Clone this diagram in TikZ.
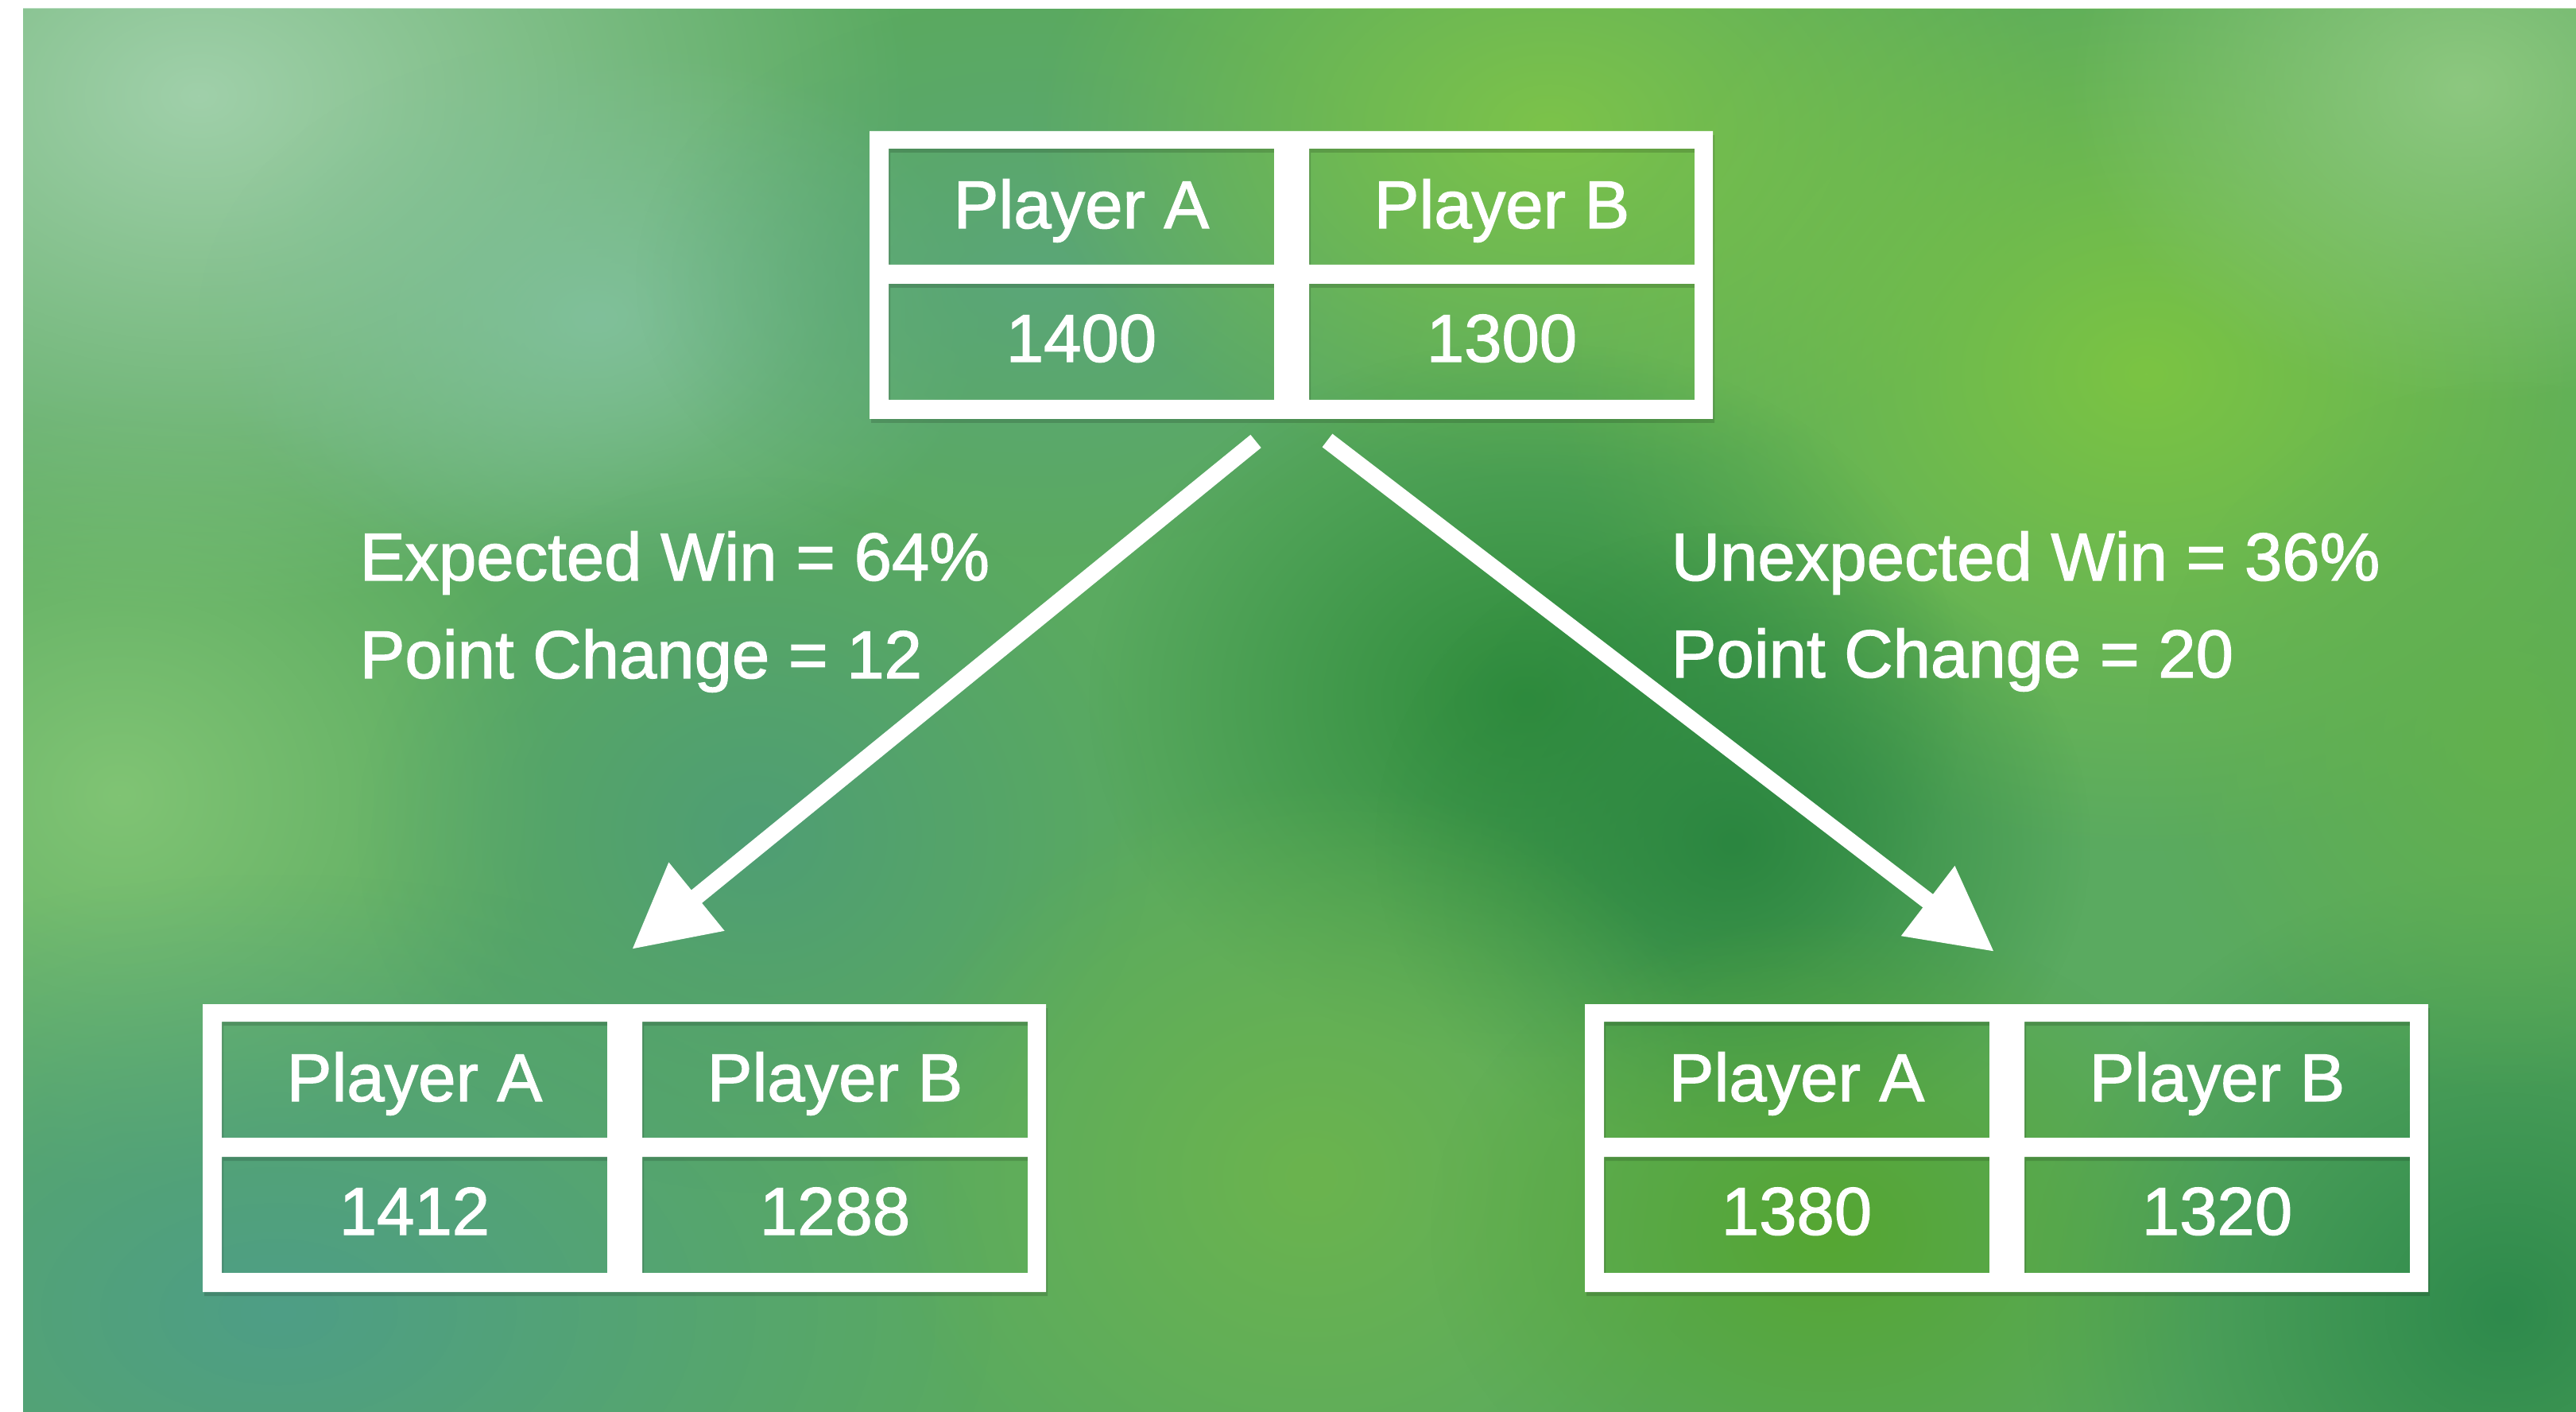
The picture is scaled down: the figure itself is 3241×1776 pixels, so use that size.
\documentclass[tikz,border=0pt]{standalone}
\usepackage{fontspec}
\setmainfont{Liberation Sans}
\newfontfamily\lblfont{Liberation Sans}[FakeBold=1.5]
\usetikzlibrary{arrows.meta,fadings}
\tikzfading[name=blobfade, inner color=transparent!0, outer color=transparent!100]
\definecolor{bgbase}{HTML}{5AAA60}
\definecolor{mint}{HTML}{A0D0AA}
\definecolor{mintteal}{HTML}{80C09A}
\definecolor{leafl}{HTML}{80C474}
\definecolor{tealbl}{HTML}{4E9E86}
\definecolor{tealmid}{HTML}{4F9E74}
\definecolor{lime}{HTML}{7CC34A}
\definecolor{limeb}{HTML}{7BC443}
\definecolor{paletr}{HTML}{8DC880}
\definecolor{darkc}{HTML}{2F8C3C}
\definecolor{darkr}{HTML}{2B8640}
\definecolor{darkbr}{HTML}{2E8A4C}
\definecolor{brightb}{HTML}{6BB44E}
\definecolor{yelgr}{HTML}{55A632}
\definecolor{rightm}{HTML}{62B14E}
\definecolor{toptbl}{HTML}{5AA678}

\newcommand\ratingtable[7]{%
  \fill[black, opacity=0.15, even odd rule, shift={(#2+2,#3+5)}]
    (0,0) rectangle (1061,362)
    (24,22) rectangle (509,168) (553,22) rectangle (1038,168)
    (24,192) rectangle (509,338) (553,192) rectangle (1038,338);
  \fill[white, even odd rule, shift={(#2,#3)}]
    (0,0) rectangle (1061,362)
    (24,22) rectangle (509,168) (553,22) rectangle (1038,168)
    (24,192) rectangle (509,338) (553,192) rectangle (1038,338);
  \node[celltext] (#1-pa) at (#2+266.5,#3+122) {#4};
  \node[celltext] (#1-pb) at (#2+795.5,#3+122) {#5};
  \node[celltext] (#1-va) at (#2+266.5,#3+290) {#6};
  \node[celltext] (#1-vb) at (#2+795.5,#3+290) {#7};
}

\begin{document}
\begin{tikzpicture}[x=0.01cm,y=-0.01cm,
  lbl/.style={text=white, inner sep=0pt, font=\lblfont\fontsize{24.2pt}{29pt}\selectfont},
  celltext/.style={lbl, anchor=base},
  sidetext/.style={lbl, anchor=base west},
  flow/.style={draw=white, line width=0.21cm, -{Triangle[length=1.05cm,width=1.05cm]}},
  blob/.style={fill=#1, path fading=blobfade}]

\useasboundingbox (0,0) rectangle (3241,1776);
\fill[white] (0,0) rectangle (3241,1776);
\begin{scope}
  \clip (29,11) rectangle (3241,1776);
  \fill[bgbase] (29,11) rectangle (3241,1776);
  \fill[blob=mint] (250,120) ellipse [x radius=900, y radius=650];
  \fill[blob=mintteal] (750,400) ellipse [x radius=500, y radius=350];
  \fill[blob=leafl] (150,1000) ellipse [x radius=550, y radius=500];
  \fill[blob=tealbl] (350,1650) ellipse [x radius=900, y radius=550];
  \fill[blob=tealmid] (950,1050) ellipse [x radius=500, y radius=450];
  \fill[blob=toptbl] (1300,350) ellipse [x radius=500, y radius=350];
  \fill[blob=lime] (1950,160) ellipse [x radius=650, y radius=450];
  \fill[blob=limeb] (2700,470) ellipse [x radius=750, y radius=600];
  \fill[blob=paletr] (3100,110) ellipse [x radius=500, y radius=400];
  \fill[blob=darkc] (1920,880) ellipse [x radius=550, y radius=450];
  \fill[blob=darkr] (2180,1060) ellipse [x radius=450, y radius=400];
  \fill[blob=darkbr] (3150,1650) ellipse [x radius=600, y radius=550];
  \fill[blob=brightb] (1650,1480) ellipse [x radius=550, y radius=500];
  \fill[blob=yelgr] (2300,1550) ellipse [x radius=500, y radius=400];
  \fill[blob=rightm] (3150,930) ellipse [x radius=450, y radius=450];
\end{scope}

\ratingtable{top}{1094}{165}{Player A}{Player B}{1400}{1300}
\ratingtable{left}{255}{1263}{Player A}{Player B}{1412}{1288}
\ratingtable{right}{1994}{1263}{Player A}{Player B}{1380}{1320}

\coordinate (lstart) at (1580,555);
\coordinate (lend) at (795,1194);
\coordinate (rstart) at (1670,554);
\coordinate (rend) at (2509,1197);
\draw[flow] (lstart) -- (lend);
\draw[flow] (rstart) -- (rend);

\node[sidetext] (ewin) at (452,730) {Expected Win = 64\%};
\node[sidetext] (epts) at (452,853) {Point Change = 12};
\node[sidetext] (uwin) at (2102,730) {Unexpected Win = 36\%};
\node[sidetext] (upts) at (2102,852) {Point Change = 20};
\end{tikzpicture}
\end{document}
